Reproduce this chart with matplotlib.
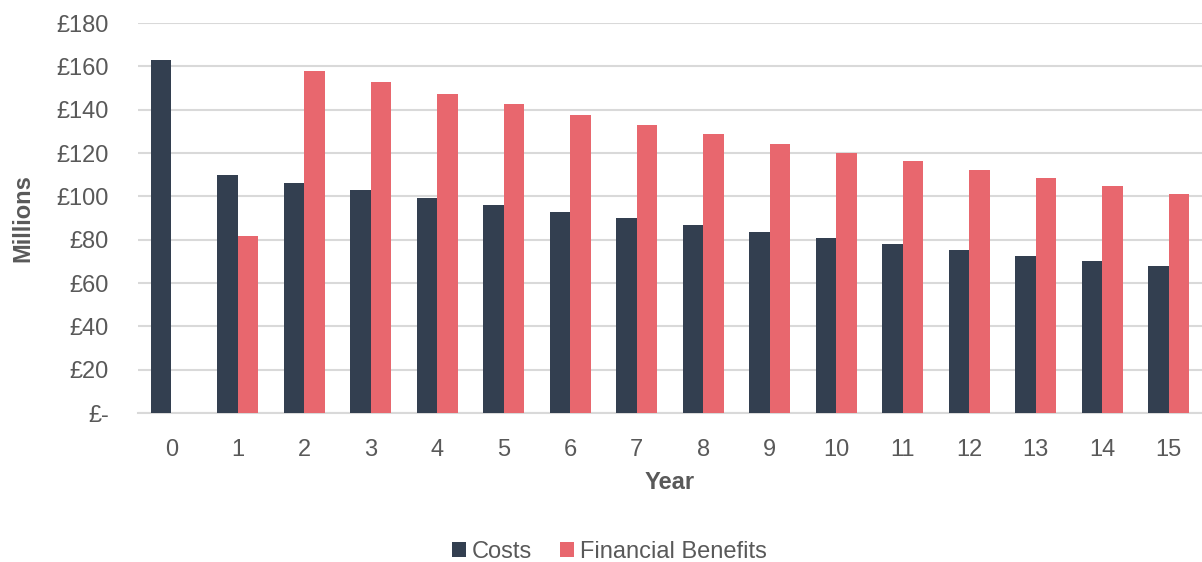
import matplotlib.pyplot as plt
import numpy as np

plt.rcParams['font.family'] = ['Liberation Sans', 'DejaVu Sans']

# Annual costs and benefits, £ millions
years = list(range(16))
costs = [163, 110, 106.2, 102.9, 99.2, 96, 92.8, 89.8, 86.8, 83.6, 80.8, 78, 75.3, 72.7, 70.1, 67.9]
benefits = [0, 81.7, 157.9, 152.8, 147.4, 142.6, 137.7, 133.1, 128.7, 124.3, 120.2, 116.1, 112.1, 108.3, 104.6, 101.1]
yticks = [0, 20, 40, 60, 80, 100, 120, 140, 160, 180]
ytick_labels = ['£-' if v == 0 else f'£{v}' for v in yticks]

COST_COL = '#333F50'
BEN_COL = '#E8676E'
TEXT_COL = '#595959'
GRID_COL = '#D9D9D9'

fig = plt.figure(figsize=(12.02, 5.62), dpi=100)
ax = fig.add_axes([0.1148, 0.2651, 0.8852, 0.6939])

x = np.arange(len(years))
w = 0.31
ax.bar(x - w / 2, costs, w, color=COST_COL, label='Costs', zorder=3)
ax.bar(x + w / 2, benefits, w, color=BEN_COL, label='Financial Benefits', zorder=3)

ax.set_xlim(-0.5, len(years) - 0.5)
ax.set_ylim(0, 180)
ax.set_yticks(yticks)
ax.set_yticklabels(ytick_labels)
ax.set_xticks(x)
ax.set_xticklabels([str(y) for y in years])
ax.tick_params(axis='both', length=0, labelsize=17, colors=TEXT_COL)
ax.tick_params(axis='y', pad=21)
ax.tick_params(axis='x', pad=19)

ax.grid(axis='y', color=GRID_COL, linewidth=1.5, zorder=0)
for side in ['top', 'right', 'left']:
    ax.spines[side].set_visible(False)
ax.spines['bottom'].set_color(GRID_COL)
ax.spines['bottom'].set_linewidth(1.5)

ax.set_xlabel('Year', fontsize=17, fontweight='bold', color=TEXT_COL, labelpad=7)
ax.set_ylabel('Millions', fontsize=17, fontweight='bold', color=TEXT_COL, labelpad=16)

fig.legend(loc='center', bbox_to_anchor=(0.507, 0.018), ncol=2, frameon=False,
           fontsize=17, labelcolor=TEXT_COL, handlelength=0.6, handleheight=0.6,
           handletextpad=0.25, columnspacing=1.2)

fig.savefig('out.png', dpi=100)
